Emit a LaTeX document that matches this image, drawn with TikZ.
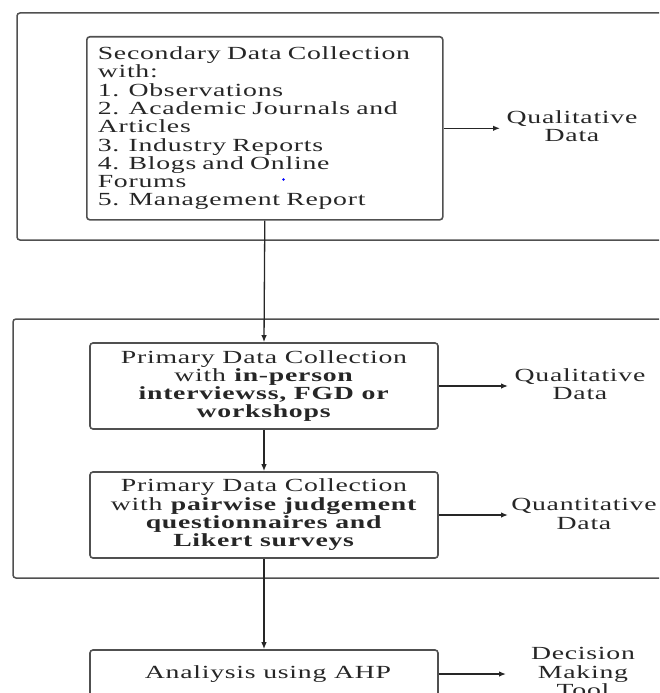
\documentclass[tikz,border=0pt]{standalone}
\usepackage{fontspec}
\setmainfont[FakeStretch=1.5,LetterSpace=4]{Liberation Serif}
\usetikzlibrary{arrows.meta}
\definecolor{ink}{HTML}{262626}
\definecolor{frame}{HTML}{505050}
\newcommand{\boxfont}{\fontsize{18.5}{18.3}\selectfont}
\begin{document}
\begin{tikzpicture}[x=1pt,y=-1pt,
  group/.style={draw=frame, line width=1.5pt, rounded corners=3pt},
  stepbox/.style={draw=frame, line width=1.6pt, rounded corners=3pt,
    text=ink, font=\boxfont, inner sep=0pt},
  outlabel/.style={font=\boxfont, align=center, text=ink, inner sep=0pt},
  flow/.style={draw=ink, line width=1.3pt, -{Latex[length=7pt,width=5.5pt]}}]
\useasboundingbox (0,0) rectangle (659,693);
\clip (0,0) rectangle (659,693);

% stage frames
\draw[group] (17,13) rectangle (700,240);
\draw[group] (13,319) rectangle (700,578);

% process steps
\node[stepbox, anchor=north west, text width=334pt, align=left,
  inner xsep=11pt, minimum height=183pt] (sec) at (86,36)
  {Secondary Data Collection\\with:\\1. Observations\\2. Academic Journals and\\Articles\\3. Industry Reports\\4. Blogs and Online\\Forums\\5. Management Report};
\node[stepbox, minimum width=348pt, minimum height=86pt, align=center] (p1) at (264,386)
  {Primary Data Collection\\with \textbf{in-person}\\\textbf{interviewss, FGD or}\\\textbf{workshops}};
\node[stepbox, minimum width=348pt, minimum height=86pt, align=center] (p2) at (264,515)
  {Primary Data Collection\\with \textbf{pairwise judgement}\\\textbf{questionnaires and}\\\textbf{Likert surveys}};
\node[stepbox, minimum width=348pt, minimum height=48pt, align=center] (ahp) at (264,674)
  {\hspace*{8pt}Analiysis using AHP};

% outputs
\node[outlabel] (q1) at (572,126.5) {Qualitative\\Data};
\node[outlabel] (q2) at (580,384.5) {Qualitative\\Data};
\node[outlabel] (q3) at (584,514) {Quantitative\\Data};
\node[outlabel] (dm) at (583,672) {Decision\\Making\\Tool};

\coordinate (t1) at (500,128);
\coordinate (t2) at (508,387);
\coordinate (t3) at (508,515);
\coordinate (t4) at (506,674);

% connectors
\draw[flow] (sec.south) -- (p1.north);
\draw[flow] (p1.south) -- (p2.north);
\draw[flow] (p2.south) -- (ahp.north);
\draw[flow] (sec.east) -- (sec.east -| t1);
\draw[flow] (p1.east) -- (p1.east -| t2);
\draw[flow] (p2.east) -- (p2.east -| t3);
\draw[flow] (ahp.east) -- (ahp.east -| t4);

% stray mark
\fill[blue] (283.5,179.5) circle (1.3pt);
\end{tikzpicture}
\end{document}
